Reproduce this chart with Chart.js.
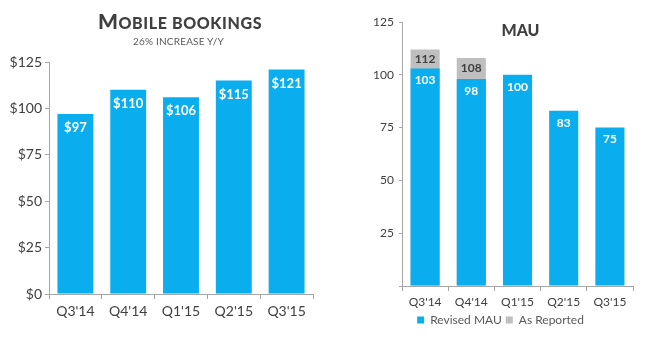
<!DOCTYPE html>
<html>
<head>
<meta charset="utf-8">
<script src="https://cdn.jsdelivr.net/npm/chart.js@4/dist/chart.umd.min.js"></script>
<style>
    body { margin: 0; background: #fff; }
    #wrap { position: relative; width: 646px; height: 350px; overflow: hidden; font-family: Lato, "Open Sans", sans-serif; }
    #leftBox { position: absolute; left: 0; top: 0; }
    #rightBox { position: absolute; left: 368px; top: 0; }
    .title1 { position: absolute; left: 0; width: 360px; top: 8px; text-align: center; font-size: 16px; font-weight: 900; color: #404040; letter-spacing: 0.6px; }
    .title1 .big { font-size: 21px; }
    .sub1 { position: absolute; left: 0; width: 357px; top: 35px; text-align: center; font-size: 10px; color: #595959; letter-spacing: 0.2px; }
    .title2 { position: absolute; left: 473px; width: 95px; top: 20px; text-align: center; font-size: 16px; font-weight: 900; color: #404040; }
</style>
</head>
<body>
<div id="wrap">
    <div id="leftBox"><canvas id="bookings" width="330" height="350"></canvas></div>
    <div id="rightBox"><canvas id="mau" width="278" height="350"></canvas></div>
    <div class="title1"><span class="big">M</span>OBILE BOOKINGS</div>
    <div class="sub1">26% INCREASE Y/Y</div>
    <div class="title2">MAU</div>
</div>
<script>
var quarters = ["Q3'14", "Q4'14", "Q1'15", "Q2'15", "Q3'15"];
var bookings = [97, 110, 106, 115, 121];
var revisedMau = [103, 98, 100, 83, 75];
var reportedMau = [112, 108, null, null, null];

var blue = "#0aaeef";
var grey = "#bfbfbf";
var axisGrey = "#a6a6a6";

Chart.defaults.font.family = "Lato, 'Open Sans', sans-serif";
Chart.defaults.color = "#404040";

// draws value labels near the top of each bar
var barLabels = {
    id: "barLabels",
    afterDatasetsDraw: function (chart, args, opts) {
        var ctx = chart.ctx;
        ctx.save();
        ctx.textAlign = "center";
        ctx.textBaseline = "middle";
        chart.data.datasets.forEach(function (ds, i) {
            var meta = chart.getDatasetMeta(i);
            meta.data.forEach(function (bar, j) {
                var v = ds.data[j];
                if (v === null || v === undefined) return;
                ctx.font = "bold " + opts.size + "px Lato, 'Open Sans', sans-serif";
                ctx.fillStyle = ds.labelColor;
                var txt = (opts.prefix || "") + v;
                ctx.fillText(txt, bar.x, bar.y + ds.labelOffset);
            });
        });
        ctx.restore();
    },
};

new Chart(document.getElementById("bookings"), {
    type: "bar",
    data: {
        labels: quarters,
        datasets: [
            {
                label: "Mobile bookings",
                data: bookings,
                backgroundColor: blue,
                categoryPercentage: 1,
                barPercentage: 0.68,
                labelColor: "#ffffff",
                labelOffset: 14,
            },
        ],
    },
    options: {
        responsive: false,
        animation: false,
        layout: { padding: { top: 62, right: 17, left: 0, bottom: 0 } },
        scales: {
            y: {
                min: 0,
                max: 125,
                ticks: {
                    stepSize: 25,
                    padding: 3,
                    color: "#404040",
                    font: { size: 14 },
                    callback: function (v) { return "$" + v; },
                },
                grid: { drawOnChartArea: false, tickLength: 4, color: axisGrey },
                border: { color: axisGrey },
                afterFit: function (s) { s.width = 49; },
            },
            x: {
                ticks: { padding: 4, color: "#404040", font: { size: 14 } },
                grid: { drawOnChartArea: false, tickLength: 5, color: axisGrey, offset: true },
                border: { color: axisGrey },
                afterFit: function (s) { s.height = 56; },
            },
        },
        plugins: {
            legend: { display: false },
            tooltip: { enabled: false },
            barLabels: { size: 13, prefix: "$" },
        },
    },
    plugins: [barLabels],
});

new Chart(document.getElementById("mau"), {
    type: "bar",
    data: {
        labels: quarters,
        datasets: [
            {
                label: "Revised MAU",
                data: revisedMau,
                backgroundColor: blue,
                categoryPercentage: 1,
                barPercentage: 0.63,
                labelColor: "#ffffff",
                labelOffset: 12,
            },
            {
                label: "As Reported",
                data: reportedMau,
                backgroundColor: grey,
                categoryPercentage: 1,
                barPercentage: 0.63,
                labelColor: "#404040",
                labelOffset: 10,
            },
        ],
    },
    options: {
        responsive: false,
        animation: false,
        layout: { padding: { top: 22, right: 13, left: 0, bottom: 14 } },
        scales: {
            y: {
                min: 0,
                max: 125,
                ticks: {
                    stepSize: 25,
                    padding: 5,
                    color: "#404040",
                    font: { size: 12 },
                    callback: function (v) { return v === 0 ? "" : v; },
                },
                grid: { drawOnChartArea: false, tickLength: 3, color: axisGrey },
                border: { color: axisGrey },
                afterFit: function (s) { s.width = 34; },
            },
            x: {
                stacked: true,
                ticks: { padding: 4, color: "#404040", font: { size: 12 } },
                grid: { drawOnChartArea: false, tickLength: 5, color: axisGrey, offset: true },
                border: { color: axisGrey },
                afterFit: function (s) { s.height = 24; },
            },
        },
        plugins: {
            legend: {
                position: "bottom",
                labels: { boxWidth: 7, boxHeight: 7, padding: 4, color: "#595959", font: { size: 12 } },
            },
            tooltip: { enabled: false },
            barLabels: { size: 12 },
        },
    },
    plugins: [barLabels],
});
</script>
</body>
</html>
